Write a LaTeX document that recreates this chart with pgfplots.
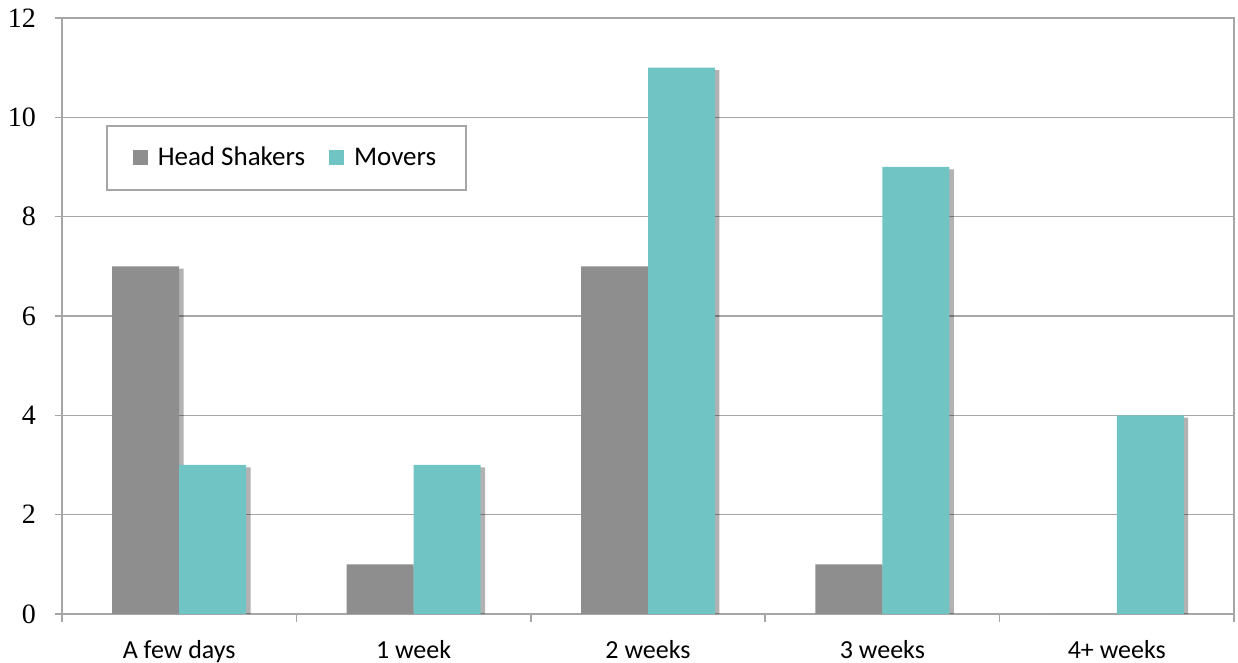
\documentclass[border=0pt]{standalone}
\usepackage{pgfplots}
\pgfplotsset{compat=1.18}
\usepackage{fontspec}
\setsansfont{Carlito}
\setmainfont{Liberation Serif}
\usetikzlibrary{shadows,calc}
\definecolor{hs}{HTML}{8E8E8E}
\definecolor{mv}{HTML}{71C4C4}
\definecolor{gridc}{HTML}{A6A6A6}
\begin{document}
\begin{tikzpicture}
\begin{axis}[
  scale only axis, width=586pt, height=298pt,
  ybar, bar width=33.5pt,
  xmin=-0.5, xmax=4.5, ymin=0, ymax=12,
  ytick={0,2,...,12},
  xtick={0,...,4},
  xticklabels={A few days,1 week,2 weeks,3 weeks,4+ weeks},
  minor xtick={-0.5,0.5,...,4.5},
  major x tick style={draw=none},
  minor tick length=4pt,
  major tick length=3.5pt,
  tick align=outside,
  xtick pos=bottom, ytick pos=left,
  axis line style={gridc, line width=0.8pt},
  every tick/.style={gridc, line width=0.8pt},
  ymajorgrids,
  grid style={gridc, line width=0.8pt},
  x tick label style={font=\sffamily\fontsize{13}{15}\selectfont, yshift=-6pt},
  y tick label style={font=\rmfamily\fontsize{14}{16}\selectfont, xshift=-6pt},
  /pgf/number format/assume math mode=true,
  legend style={at={(0.0375,0.82)}, anchor=north west, legend columns=2,
    draw=gridc, line width=0.8pt, font=\sffamily\fontsize{13.5}{15}\selectfont,
    inner xsep=13pt, inner ysep=8.5pt,
    /tikz/every odd column/.append style={column sep=3pt},
    /tikz/every even column/.append style={column sep=10pt}},
  legend image code/.code={\fill[#1,draw=none] (2pt,-3.3pt) rectangle (9.5pt,4.2pt);},
]
\addlegendimage{fill=hs, draw=none}
\addlegendimage{fill=mv, draw=none}
\addplot[fill=hs, draw=none, forget plot, bar shift=-16.75pt,
  drop shadow={shadow xshift=2.2pt, shadow yshift=-1.2pt, fill=black, opacity=0.3}]
  coordinates {(0,7) (1,1) (2,7) (3,1) (4,0)};
\addplot[fill=mv, draw=none, forget plot, bar shift=16.75pt,
  drop shadow={shadow xshift=2.2pt, shadow yshift=-1.2pt, fill=black, opacity=0.3}]
  coordinates {(0,3) (1,3) (2,11) (3,9) (4,4)};
\legend{Head Shakers, Movers}
\end{axis}
\pgfresetboundingbox
\useasboundingbox ($(current axis.south west)+(-31pt,-24.5pt)$) rectangle ($(current axis.north east)+(2pt,9pt)$);
\end{tikzpicture}
\end{document}
